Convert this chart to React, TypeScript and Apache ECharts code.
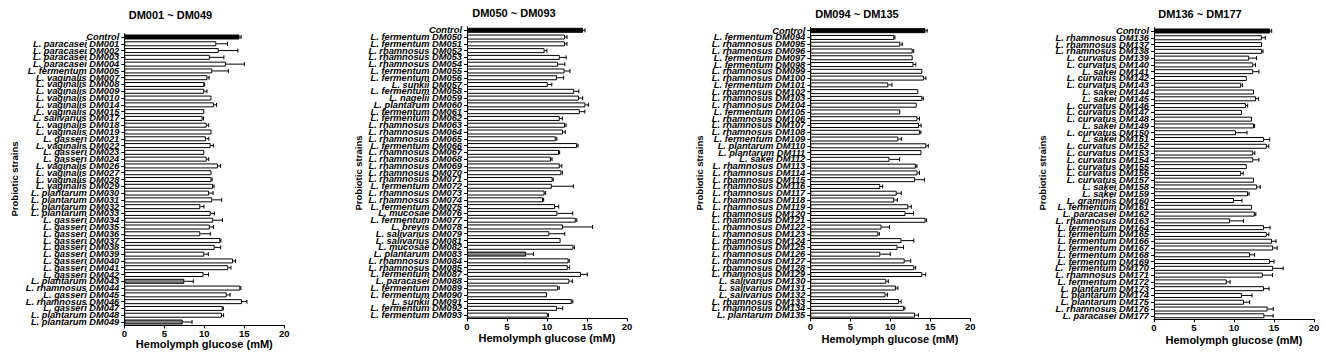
import React, { useEffect, useRef } from "react";
import * as echarts from "echarts";

const panelTitles = ["DM001 ~ DM049", "DM050 ~ DM093", "DM094 ~ DM135", "DM136 ~ DM177"];
const xAxisTitle = "Hemolymph glucose (mM)";
const yAxisTitle = "Probiotic strains";
const xTicks = [0, 5, 10, 15, 20];
const grayStrains = ["DM043", "DM049", "DM083"];

const labels1 = [
  "Control", "L. paracasei DM001", "L. paracasei DM002", "L. paracasei DM003", "L. paracasei DM004",
  "L. fermentum DM005", "L. vaginalis DM007", "L. vaginalis DM008", "L. vaginalis DM009", "L. vaginalis DM010",
  "L. vaginalis DM014", "L. vaginalis DM015", "L. salivarius DM017", "L. vaginalis DM018", "L. vaginalis DM019",
  "L. gasseri DM021", "L. vaginalis DM022", "L. gasseri DM023", "L. gasseri DM024", "L. vaginalis DM026",
  "L. vaginalis DM027", "L. vaginalis DM028", "L. vaginalis DM029", "L. plantarum DM030", "L. plantarum DM031",
  "L. plantarum DM032", "L. plantarum DM033", "L. gasseri DM034", "L. gasseri DM035", "L. gasseri DM036",
  "L. gasseri DM037", "L. gasseri DM038", "L. gasseri DM039", "L. gasseri DM040", "L. gasseri DM041",
  "L. gasseri DM042", "L. plantarum DM043", "L. rhamnosus DM044", "L. gasseri DM045", "L. rhamnosus DM046",
  "L. gasseri DM047", "L. plantarum DM048", "L. plantarum DM049",
];
const values1 = [
  14.4, 11.5, 11.8, 10.7, 12.7, 11.0, 10.4, 10.0, 10.0, 10.9, 11.2, 10.0, 9.8, 10.3, 10.9, 10.2, 10.8, 10.0,
  10.3, 11.7, 10.9, 10.9, 11.1, 10.6, 11.0, 9.5, 10.8, 11.1, 10.7, 9.5, 12.0, 11.3, 10.0, 13.6, 13.0, 9.9,
  7.5, 14.5, 12.8, 14.7, 12.3, 12.2, 7.3,
];
const errors1 = [
  0.2, 1.4, 2.4, 1.75, 2.3, 2.0, 0.2, 0.05, 0.33, 0, 0.33, 0, 0.1, 0.25, 0, 0.37, 0.33, 0, 0.25, 0.33, 0,
  0.08, 0.12, 0.5, 1.17, 0.46, 0.46, 1.17, 0.46, 1.25, 0.08, 0.75, 0.5, 0.29, 0.33, 0.63, 1.13, 0.08, 0.42,
  0.63, 0.08, 0.21, 1.17,
];

const labels2 = [
  "Control", "L. fermentum DM050", "L. fermentum DM051", "L. rhamnosus DM052", "L. rhamnosus DM053",
  "L. rhamnosus DM054", "L. fermentum DM055", "L. fermentum DM056", "L. sunkii DM057", "L. fermentum DM058",
  "L. nagelii DM059", "L. plantarum DM060", "L. fermentum DM061", "L. fermentum DM062", "L. rhamnosus DM063",
  "L. rhamnosus DM064", "L. rhamnosus DM065", "L. fermentum DM066", "L. rhamnosus DM067", "L. rhamnosus DM068",
  "L. rhamnosus DM069", "L. rhamnosus DM070", "L. rhamnosus DM071", "L. fermentum DM072", "L. rhamnosus DM073",
  "L. rhamnosus DM074", "L. fermentum DM075", "L. mucosae DM076", "L. fermentum DM077", "L. brevis DM078",
  "L. salivarius DM079", "L. salivarius DM081", "L. mucosae DM082", "L. plantarum DM083", "L. rhamnosus DM084",
  "L. rhamnosus DM085", "L. fermentum DM087", "L. paracasei DM088", "L. fermentum DM089", "L. fermentum DM090",
  "L. sunkii DM091", "L. fermentum DM092", "L. fermentum DM093",
];
const values2 = [
  14.5, 12.25, 12.25, 9.7, 11.6, 11.4, 12.2, 11.25, 10.1, 13.4, 14.0, 14.8, 14.1, 11.6, 12.25, 12.0, 11.1,
  13.75, 11.5, 10.5, 11.6, 11.8, 10.7, 10.6, 9.7, 9.5, 11.0, 11.3, 13.6, 12.0, 10.3, 11.7, 13.3, 7.4, 12.7,
  12.6, 14.25, 12.8, 11.4, 10.0, 13.1, 11.25, 10.1,
];
const errors2 = [
  0.25, 0.25, 0.25, 0.29, 0.79, 0.83, 0.67, 0.83, 0.5, 0.58, 0.46, 0.38, 0.63, 0.33, 0.13, 0.29, 0.13, 0.13,
  0.08, 0.13, 0.25, 0.13, 0.08, 2.7, 0.13, 0.08, 0.46, 1.92, 0.13, 3.7, 1.92, 0, 0.13, 0.92, 0.08, 0.21, 0.79,
  0.38, 0.13, 0, 0.13, 0.71, 0.08,
];

const labels3 = [
  "Control", "L. fermentum DM094", "L. rhamnosus DM095", "L. rhamnosus DM096", "L. fermentum DM097",
  "L. fermentum DM098", "L. rhamnosus DM099", "L. rhamnosus DM100", "L. fermentum DM101", "L. rhamnosus DM102",
  "L. rhamnosus DM103", "L. rhamnosus DM104", "L. fermentum DM105", "L. rhamnosus DM106", "L. rhamnosus DM107",
  "L. rhamnosus DM108", "L. fermentum DM109", "L. plantarum DM110", "L. plantarum DM111", "L. sakei DM112",
  "L. rhamnosus DM113", "L. rhamnosus DM114", "L. rhamnosus DM115", "L. rhamnosus DM116", "L. rhamnosus DM117",
  "L. rhamnosus DM118", "L. rhamnosus DM119", "L. rhamnosus DM120", "L. rhamnosus DM121", "L. rhamnosus DM122",
  "L. rhamnosus DM123", "L. rhamnosus DM124", "L. rhamnosus DM125", "L. rhamnosus DM126", "L. rhamnosus DM127",
  "L. rhamnosus DM128", "L. rhamnosus DM129", "L. salivarius DM130", "L. salivarius DM131", "L. salivarius DM132",
  "L. rhamnosus DM133", "L. rhamnosus DM134", "L. plantarum DM135",
];
const values3 = [
  14.4, 10.5, 11.25, 12.8, 12.8, 12.9, 14.0, 14.2, 9.75, 13.5, 14.0, 13.3, 11.25, 13.4, 13.6, 13.7, 11.0,
  14.5, 13.9, 9.9, 13.2, 13.4, 13.1, 8.75, 10.8, 10.5, 12.25, 11.9, 14.4, 8.9, 8.5, 11.4, 10.9, 8.75, 11.8,
  13.0, 14.0, 9.5, 10.7, 9.4, 11.1, 11.7, 13.1,
];
const errors3 = [
  0.21, 0.08, 0.25, 0.13, 0, 0.29, 0, 0.25, 0.46, 0, 0.13, 0, 0, 0.25, 0.25, 0.13, 0.38, 0.25, 0, 1.25, 0.13,
  0.25, 1.17, 0.29, 0.58, 0.38, 0.38, 1.0, 0.13, 1.0, 0.13, 1.54, 0.75, 1.25, 0.75, 0.17, 0.42, 0.25, 0.25,
  0.25, 0.25, 0.13, 0.42,
];

const labels4 = [
  "Control", "L. rhamnosus DM136", "L. rhamnosus DM137", "L. rhamnosus DM138", "L. curvatus DM139",
  "L. curvatus DM140", "L. sakei DM141", "L. curvatus DM142", "L. curvatus DM143", "L. sakei DM144",
  "L. sakei DM145", "L. curvatus DM146", "L. curvatus DM147", "L. curvatus DM148", "L. sakei DM149",
  "L. curvatus DM150", "L. sakei DM151", "L. curvatus DM152", "L. curvatus DM153", "L. curvatus DM154",
  "L. curvatus DM155", "L. curvatus DM156", "L. curvatus DM157", "L. sakei DM158", "L. sakei DM159",
  "L. graminis DM160", "L. fermentum DM161", "L. paracasei DM162", "L. rhamnosus DM163", "L. fermentum DM164",
  "L. fermentum DM165", "L. fermentum DM166", "L. fermentum DM167", "L. fermentum DM168", "L. fermentum DM169",
  "L.  fermentum DM170", "L. rhamnosus DM171", "L. fermentum DM172", "L. plantarum DM173", "L. plantarum DM174",
  "L. plantarum DM175", "L. rhamnosus DM176", "L. paracasei DM177",
];
const values4 = [
  14.5, 13.5, 13.5, 13.5, 11.9, 12.4, 12.4, 11.6, 10.9, 12.5, 12.75, 11.5, 11.0, 12.25, 12.5, 10.25, 13.75,
  14.1, 12.4, 12.4, 11.6, 10.9, 12.5, 12.9, 11.75, 10.0, 12.25, 12.6, 9.5, 13.75, 14.1, 14.75, 14.9, 12.0,
  14.5, 14.9, 13.6, 9.1, 13.75, 11.0, 11.25, 14.2, 13.8,
];
const errors4 = [
  0.21, 0.42, 0, 0.13, 0.92, 0.29, 0.71, 0, 0.17, 0, 0.33, 0.21, 0, 0, 0.08, 1.38, 0.71, 0.25, 0.21, 0.71, 0,
  0.25, 0, 0.38, 0.13, 1.0, 0, 0.13, 1.67, 0.75, 0.25, 0.5, 0.5, 0.58, 0.5, 1.25, 1.21, 0.42, 0.63, 1.25,
  0.71, 0.71, 1.09,
];

const FONT = '"Liberation Sans", Arial, sans-serif';

export default function App() {
  const ref = useRef<HTMLDivElement>(null);
  useEffect(() => {
    document.body.style.margin = "0";
    document.body.style.overflow = "hidden";
    const chart = echarts.init(ref.current!, null, { renderer: "svg" });

    const panels = [
      { labels: labels1, values: values1, errors: errors1, left: 124.3, top: 33.6, height: 291.8,
        title: [170.5, 15], xt: [204.3, 344], yt: [14, 179] },
      { labels: labels2, values: values2, errors: errors2, left: 467, top: 26.9, height: 291.6,
        title: [514, 13], xt: [547, 338], yt: [358, 173] },
      { labels: labels3, values: values3, errors: errors3, left: 810.3, top: 27.3, height: 291.2,
        title: [857, 13.5], xt: [890, 339], yt: [699, 173] },
      { labels: labels4, values: values4, errors: errors4, left: 1154, top: 27.6, height: 291.6,
        title: [1200, 14], xt: [1234, 340], yt: [1042, 173] },
    ];

    const grid: any[] = [];
    const xAxis: any[] = [];
    const yAxis: any[] = [];
    const series: any[] = [];
    const graphic: any[] = [];

    panels.forEach((p, i) => {
      grid.push({ left: p.left, top: p.top, width: 160, height: p.height, containLabel: false });
      xAxis.push({
        type: "value", gridIndex: i, min: xTicks[0], max: xTicks[xTicks.length - 1], interval: 5,
        axisLine: { show: true, onZero: false, lineStyle: { color: "#000", width: 1 } },
        axisTick: { show: true, length: 3, lineStyle: { color: "#000" } },
        splitLine: { show: false },
        axisLabel: { color: "#000", fontFamily: FONT, fontWeight: "bold", fontSize: 9.5, margin: 3 },
      });
      yAxis.push({
        type: "category", gridIndex: i, inverse: true, data: p.labels,
        axisLine: { show: true, lineStyle: { color: "#000", width: 1 } },
        axisTick: { show: true, length: 3, alignWithLabel: true, lineStyle: { color: "#000" } },
        axisLabel: {
          color: "#000", fontFamily: FONT, fontWeight: "bold", fontStyle: "italic", fontSize: 9.3,
          margin: 5, interval: 0,
        },
      });
      series.push({
        type: "bar", xAxisIndex: i, yAxisIndex: i, barWidth: 5,
        itemStyle: { borderColor: "#000", borderWidth: 1 },
        data: p.values.map((v, k) => {
          const lab = p.labels[k];
          const fill = lab === "Control" ? "#000" : grayStrains.some((g) => lab.endsWith(g)) ? "#808080" : "#fff";
          return { value: v, itemStyle: { color: fill } };
        }),
      });
      series.push({
        type: "custom", xAxisIndex: i, yAxisIndex: i, z: 5,
        encode: { x: 0, y: 1 },
        data: p.values.map((v, k) => [v, k, p.errors[k]]),
        renderItem: (_params: any, api: any) => {
          const v = api.value(0);
          const idx = api.value(1);
          const e = api.value(2);
          if (!e) return null;
          const p0 = api.coord([v, idx]);
          const p1 = api.coord([v + e, idx]);
          return {
            type: "group",
            children: [
              { type: "line", shape: { x1: p0[0], y1: p0[1], x2: p1[0], y2: p1[1] }, style: { stroke: "#000", lineWidth: 1 } },
              { type: "line", shape: { x1: p1[0], y1: p1[1] - 2, x2: p1[0], y2: p1[1] + 2 }, style: { stroke: "#000", lineWidth: 1 } },
            ],
          };
        },
      });
      graphic.push({
        type: "text", x: p.title[0], y: p.title[1],
        style: { text: panelTitles[i], font: `bold 11px ${FONT}`, fill: "#000", align: "center", verticalAlign: "middle" },
      });
      graphic.push({
        type: "text", x: p.xt[0], y: p.xt[1],
        style: { text: xAxisTitle, font: `bold 11px ${FONT}`, fill: "#000", align: "center", verticalAlign: "middle" },
      });
      graphic.push({
        type: "text", x: p.yt[0], y: p.yt[1], rotation: Math.PI / 2,
        style: { text: yAxisTitle, font: `bold 9.5px ${FONT}`, fill: "#000", align: "center", verticalAlign: "middle" },
      });
    });

    chart.setOption({ animation: false, backgroundColor: "#fff", grid, xAxis, yAxis, series, graphic });
    return () => chart.dispose();
  }, []);
  return <div ref={ref} style={{ width: 1325, height: 363 }} />;
}
